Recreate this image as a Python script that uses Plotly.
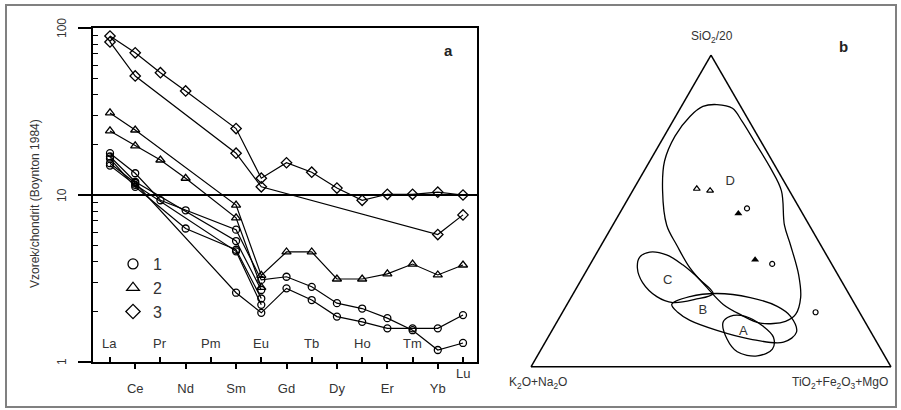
import math
import plotly.graph_objects as go

# ---------------- REE data (chondrite-normalised, Boynton 1984) ----------------
elements = ["La", "Ce", "Pr", "Nd", "Pm", "Sm", "Eu", "Gd", "Tb", "Dy", "Ho", "Er", "Tm", "Yb", "Lu"]
N = None

# group 1 (circles)
g1_a = [17.8, 13.5, 9.3, 8.1, N, 6.2, 3.1, 3.24, 2.82, 2.25, 2.09, 1.83, 1.55, 1.18, 1.3]
g1_b = [15.5, 11.8, N, N, N, 2.6, 1.97, 2.76, 2.35, 1.87, 1.74, 1.59, 1.59, 1.59, 1.91]
g1_c = [16.5, 11.2, N, 6.3, N, 4.7, 2.4, N, N, N, N, N, N, N, N]
g1_d = [15.0, 11.5, N, N, N, 4.6, 2.2, N, N, N, N, N, N, N, N]
g1_e = [17.0, 12.0, N, N, N, 5.3, 2.7, N, N, N, N, N, N, N, N]

# group 2 (triangles)
g2_a = [31.0, 24.5, N, N, N, 8.7, 3.3, 4.56, 4.56, 3.14, 3.14, 3.37, 3.86, 3.32, 3.81]
g2_b = [24.2, 19.7, 16.2, 12.6, N, 7.3, 2.8, N, N, N, N, N, N, N, N]

# group 3 (diamonds)
g3_a = [89.5, 71.0, 54.0, 42.0, N, 25.0, 12.6, 15.6, 13.7, 11.0, 9.3, 10.1, 10.1, 10.4, 10.0]
g3_b = [82.5, 51.6, N, N, N, 17.8, 11.2, N, N, N, N, N, N, 5.8, 7.6]

legend_names = ["1", "2", "3"]
y_ticks = [1, 10, 100]
y_minor = [2, 3, 4, 5, 6, 7, 8, 9, 20, 30, 40, 50, 60, 70, 80, 90]

# ---------------- ternary data (SiO2/20 ; K2O+Na2O ; TiO2+Fe2O3+MgO) ----------------
field_D_a = [84.1, 82.9, 78.7, 72.4, 63.8, 56.5, 45.4, 39.0, 29.5, 22.2, 16.8, 14.6, 14.0, 16.8, 20.0, 25.4, 31.7, 39.0, 45.4, 56.5, 66.0, 74.0, 80.3, 83.5, 84.1]
field_D_b = [6.3, 2.6, 2.0, 1.8, 1.6, 2.2, 6.9, 8.4, 10.9, 14.0, 18.1, 22.0, 29.3, 33.5, 36.6, 38.4, 40.0, 40.0, 39.6, 35.2, 29.9, 23.0, 15.7, 10.5, 6.3]
field_D_c = [9.6, 14.5, 19.3, 25.8, 34.6, 41.3, 47.7, 52.6, 59.6, 63.8, 65.1, 63.4, 56.7, 49.7, 43.4, 36.2, 28.3, 21.0, 15.0, 8.3, 4.1, 3.0, 4.0, 6.0, 9.6]

field_C_a = [35.2, 31.7, 27.0, 22.5, 20.6, 21.6, 23.5, 27.9, 32.7, 35.9, 36.8, 35.2]
field_C_b = [52.2, 54.6, 55.5, 53.8, 50.3, 43.7, 37.7, 39.1, 41.5, 44.4, 48.6, 52.2]
field_C_c = [12.6, 13.7, 17.5, 23.7, 29.1, 34.7, 38.8, 33.0, 25.8, 19.7, 14.6, 12.6]

field_B_a = [20.0, 17.5, 14.9, 11.7, 8.9, 7.9, 11.1, 16.2, 19.4, 22.2, 23.5, 22.5, 20.0]
field_B_b = [50.9, 50.5, 48.4, 42.5, 34.7, 25.9, 20.7, 19.8, 21.9, 28.0, 36.6, 44.6, 50.9]
field_B_c = [29.1, 32.0, 36.7, 45.8, 56.4, 66.2, 68.2, 64.0, 58.7, 49.8, 39.9, 32.9, 29.1]

field_A_a = [14.3, 8.9, 4.8, 3.5, 5.7, 9.5, 13.0, 16.2, 16.2, 14.3]
field_A_b = [39.5, 41.1, 40.3, 35.4, 30.1, 27.9, 29.0, 32.4, 36.6, 39.5]
field_A_c = [46.2, 50.0, 54.9, 61.1, 64.2, 62.6, 58.0, 51.4, 47.2, 46.2]

field_labels = ["D", "C", "B", "A"]
label_a = [59.4, 27.6, 18.1, 11.1]
label_b = [15.0, 48.2, 43.2, 35.5]
label_c = [25.6, 24.2, 38.7, 53.4]

tri_open_a = [57.1, 56.5]
tri_open_b = [25.4, 22.0]
tri_open_c = [17.5, 21.5]
tri_fill_a = [49.2, 34.3]
tri_fill_b = [17.8, 20.6]
tri_fill_c = [33.0, 45.1]
circ_a = [50.8, 33.0, 17.5]
circ_b = [14.6, 16.5, 12.2]
circ_c = [34.6, 50.5, 70.3]

# ---------------------------------------------------------------------------------
FONT = "Liberation Sans Narrow, Arial Narrow, Liberation Sans, Arial, sans-serif"
TXT = "#333333"
W, H = 901, 410
idx = list(range(len(elements)))

fig = go.Figure()

sym = {1: "circle-open", 2: "triangle-up-open", 3: "diamond-open"}
msize = {1: 7, 2: 8, 3: 8}
series = [(1, g1_a), (1, g1_b), (1, g1_c), (1, g1_d), (1, g1_e),
          (2, g2_a), (2, g2_b), (3, g3_a), (3, g3_b)]
for grp, vals in series:
    fig.add_trace(go.Scatter(
        x=idx, y=vals, mode="lines+markers", connectgaps=True,
        line=dict(color="black", width=1.2),
        marker=dict(symbol=sym[grp], size=msize[grp], color="black",
                    line=dict(color="black", width=1.3)),
        showlegend=False, hoverinfo="skip", xaxis="x", yaxis="y"))

for grp, name in zip([1, 2, 3], legend_names):
    fig.add_trace(go.Scatter(
        x=[None], y=[None], mode="markers", name=name,
        marker=dict(symbol=sym[grp], size=msize[grp] + 3, color="black",
                    line=dict(color="black", width=1.3)),
        showlegend=True, xaxis="x", yaxis="y"))

# ternary fields
for fa, fb, fc in [(field_D_a, field_D_b, field_D_c), (field_C_a, field_C_b, field_C_c),
                   (field_B_a, field_B_b, field_B_c), (field_A_a, field_A_b, field_A_c)]:
    fig.add_trace(go.Scatterternary(
        a=fa, b=fb, c=fc, mode="lines",
        line=dict(color="black", width=1.3, shape="spline", smoothing=1.0),
        showlegend=False, hoverinfo="skip"))

fig.add_trace(go.Scatterternary(
    a=label_a, b=label_b, c=label_c, mode="text", text=field_labels,
    textfont=dict(family=FONT, size=13, color=TXT), showlegend=False, hoverinfo="skip"))
fig.add_trace(go.Scatterternary(
    a=tri_open_a, b=tri_open_b, c=tri_open_c, mode="markers",
    marker=dict(symbol="triangle-up-open", size=6, color="black", line=dict(width=1.2, color="black")),
    showlegend=False, hoverinfo="skip"))
fig.add_trace(go.Scatterternary(
    a=tri_fill_a, b=tri_fill_b, c=tri_fill_c, mode="markers",
    marker=dict(symbol="triangle-up", size=7, color="black"),
    showlegend=False, hoverinfo="skip"))
fig.add_trace(go.Scatterternary(
    a=circ_a, b=circ_b, c=circ_c, mode="markers",
    marker=dict(symbol="circle-open", size=5, color="black", line=dict(width=1.2, color="black")),
    showlegend=False, hoverinfo="skip"))

# ---------------- axes ----------------
px = lambda v: v / W
py = lambda v: 1 - v / H

fig.update_layout(
    width=W, height=H, margin=dict(l=0, r=0, t=0, b=0, autoexpand=False),
    paper_bgcolor="white", plot_bgcolor="white",
    font=dict(family=FONT, color=TXT, size=12),
    xaxis=dict(
        domain=[px(93), px(477)], range=[-0.674, 14.555], automargin=False,
        tickmode="array", tickvals=idx[1::2], ticktext=elements[1::2],
        ticks="outside", ticklen=5, tickwidth=1.5, tickcolor="black",
        ticklabelstandoff=9, tickfont=dict(family=FONT, size=13, color=TXT),
        showline=True, linecolor="black", linewidth=1.5, mirror=True,
        showgrid=False, zeroline=False,
        minor=dict(tickmode="array", tickvals=idx[0::2], ticks="inside",
                   ticklen=5, tickwidth=1.5, tickcolor="black", showgrid=False),
        anchor="y"),
    yaxis=dict(
        domain=[py(362), py(28)], type="log", range=[0, 2], automargin=False,
        tickmode="array", tickvals=y_ticks, showticklabels=False,
        ticks="outside", ticklen=13, tickwidth=1.5, tickcolor="black",
        showline=True, linecolor="black", linewidth=1.5, mirror=True,
        showgrid=True, gridcolor="black", gridwidth=1.5, zeroline=False,
        minor=dict(tickmode="array", tickvals=y_minor,
                   ticks="inside", ticklen=5, tickwidth=1, tickcolor="black", showgrid=False),
        anchor="x"),
    ternary=dict(
        domain=dict(x=[px(531), px(891)], y=[py(366.8), py(55)]),
        sum=100, bgcolor="white",
        aaxis=dict(showline=True, linecolor="black", linewidth=1.5, showgrid=False,
                   showticklabels=False, ticks="", title=dict(text="")),
        baxis=dict(showline=True, linecolor="black", linewidth=1.5, showgrid=False,
                   showticklabels=False, ticks="", title=dict(text="")),
        caxis=dict(showline=True, linecolor="black", linewidth=1.5, showgrid=False,
                   showticklabels=False, ticks="", title=dict(text=""))),
    legend=dict(x=px(113), y=py(247), xanchor="left", yanchor="top",
                bgcolor="rgba(0,0,0,0)", borderwidth=0, itemwidth=30,
                font=dict(family=FONT, size=16, color=TXT), tracegroupgap=0),
    hovermode=False,
)


def note(x, y, text, size=12, angle=0, family=FONT, color=TXT):
    return dict(x=px(x), y=py(y), xref="paper", yref="paper", text=text, showarrow=False,
                xanchor="center", yanchor="middle", textangle=angle,
                font=dict(family=family, size=size, color=color))


ann = []
# element labels drawn inside the frame (even positions)
for i in idx[0::2]:
    ann.append(dict(x=i, y=0, xref="x", yref="y", text=elements[i], showarrow=False,
                    xanchor="center", yanchor="middle",
                    yshift=(19 if i < idx[-1] else -11),
                    font=dict(family=FONT, size=13, color=TXT)))
# rotated y tick labels at the decade positions
for v in y_ticks:
    ann.append(dict(x=px(62), y=math.log10(v), xref="paper", yref="y", text=str(v),
                    showarrow=False, xanchor="center", yanchor="middle", textangle=-90,
                    font=dict(family=FONT, size=12, color=TXT)))
ann += [
    note(35, 204, "Vzorek/chondrit (Boynton 1984)", angle=-90),
    note(448, 50, "<b>a</b>", size=15, family="Liberation Sans, Arial", color="#222"),
    note(843, 47, "<b>b</b>", size=15, family="Liberation Sans, Arial", color="#222"),
    note(712, 37, "SiO<sub>2</sub>/20"),
    note(538, 383, "K<sub>2</sub>O+Na<sub>2</sub>O"),
    note(840, 383, "TiO<sub>2</sub>+Fe<sub>2</sub>O<sub>3</sub>+MgO"),
]
fig.update_layout(annotations=ann)

# outer frame
fig.add_shape(type="rect", xref="paper", yref="paper",
              x0=px(6), x1=px(896), y0=py(407), y1=py(5),
              line=dict(color="#808080", width=2), fillcolor="rgba(0,0,0,0)", layer="below")

fig.write_html("out.html")
